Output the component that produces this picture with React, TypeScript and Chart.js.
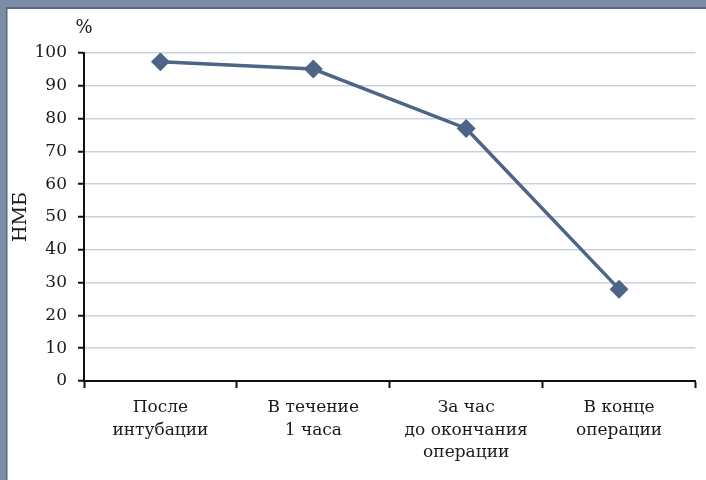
import React, { useEffect, useRef } from "react";
import { Chart, registerables } from "chart.js";

Chart.register(...registerables);

const categories: string[][] = [
  ["После", "интубации"],
  ["В течение", "1 часа"],
  ["За час", "до окончания", "операции"],
  ["В конце", "операции"],
];
const values: number[] = [97.3, 95.1, 77, 28];
const yTicks: number[] = [0, 10, 20, 30, 40, 50, 60, 70, 80, 90, 100];
const yTitle = "НМБ";
const unitLabel = "%";

const FONT = "'DejaVu Serif', serif";
const LINE = "#4e6588";

const decorPlugin = {
  id: "decor",
  beforeDraw(chart: any) {
    const { ctx, width, height } = chart;
    ctx.save();
    ctx.fillStyle = "#ffffff";
    ctx.fillRect(0, 0, width, height);
    ctx.fillStyle = "#7b8ca6";
    ctx.fillRect(0, 0, width, 7);
    ctx.fillRect(0, 0, 6, height);
    ctx.fillStyle = "#56698a";
    ctx.fillRect(6, 7, width - 6, 2);
    ctx.fillRect(6, 7, 1.5, height - 7);
    ctx.restore();
  },
  afterDraw(chart: any) {
    const { ctx, chartArea } = chart;
    ctx.save();
    ctx.fillStyle = "#1a1a1a";
    ctx.font = `18px ${FONT}`;
    ctx.textAlign = "center";
    ctx.textBaseline = "middle";
    ctx.fillText(unitLabel, chartArea.left, 28);
    ctx.translate(21, (chartArea.top + chartArea.bottom) / 2);
    ctx.rotate(-Math.PI / 2);
    ctx.font = `19px ${FONT}`;
    ctx.fillText(yTitle, 0, 0);
    ctx.restore();
  },
};

export default function App() {
  const ref = useRef<HTMLCanvasElement>(null);
  useEffect(() => {
    document.body.style.margin = "0";
    const chart = new Chart(ref.current!, {
      type: "line",
      data: {
        labels: categories,
        datasets: [
          {
            data: values,
            borderColor: LINE,
            backgroundColor: LINE,
            borderWidth: 3.5,
            pointStyle: "rectRot",
            pointRadius: 7,
            pointBackgroundColor: LINE,
            pointBorderColor: LINE,
            tension: 0,
          },
        ],
      },
      options: {
        animation: false,
        responsive: false,
        devicePixelRatio: 1,
        layout: { padding: { top: 53, right: 9, left: 0, bottom: 0 } },
        plugins: { legend: { display: false }, tooltip: { enabled: false } },
        scales: {
          x: {
            type: "category",
            offset: true,
            grid: {
              offset: true,
              drawOnChartArea: false,
              drawTicks: true,
              tickLength: 7,
              tickColor: "#111",
              tickWidth: 2,
            },
            border: { color: "#111", width: 2 },
            ticks: {
              color: "#1a1a1a",
              font: { family: FONT, size: 17, lineHeight: 1.3 },
              padding: 9,
              maxRotation: 0,
              autoSkip: false,
            },
            afterFit(scale: any) {
              scale.height = 99;
            },
          },
          y: {
            min: 0,
            max: 100,
            afterBuildTicks(scale: any) {
              scale.ticks = yTicks.map((v) => ({ value: v }));
            },
            grid: {
              color: "#c9d1df",
              lineWidth: 1.5,
              tickLength: 6,
              tickColor: "#111",
              tickWidth: 2,
            },
            border: { color: "#111", width: 2 },
            ticks: {
              color: "#1a1a1a",
              font: { family: FONT, size: 17 },
              padding: 11,
            },
            afterFit(scale: any) {
              scale.width = 84;
            },
          },
        },
      },
      plugins: [decorPlugin],
    });
    return () => chart.destroy();
  }, []);
  return <canvas ref={ref} width={706} height={480} style={{ display: "block" }} />;
}
